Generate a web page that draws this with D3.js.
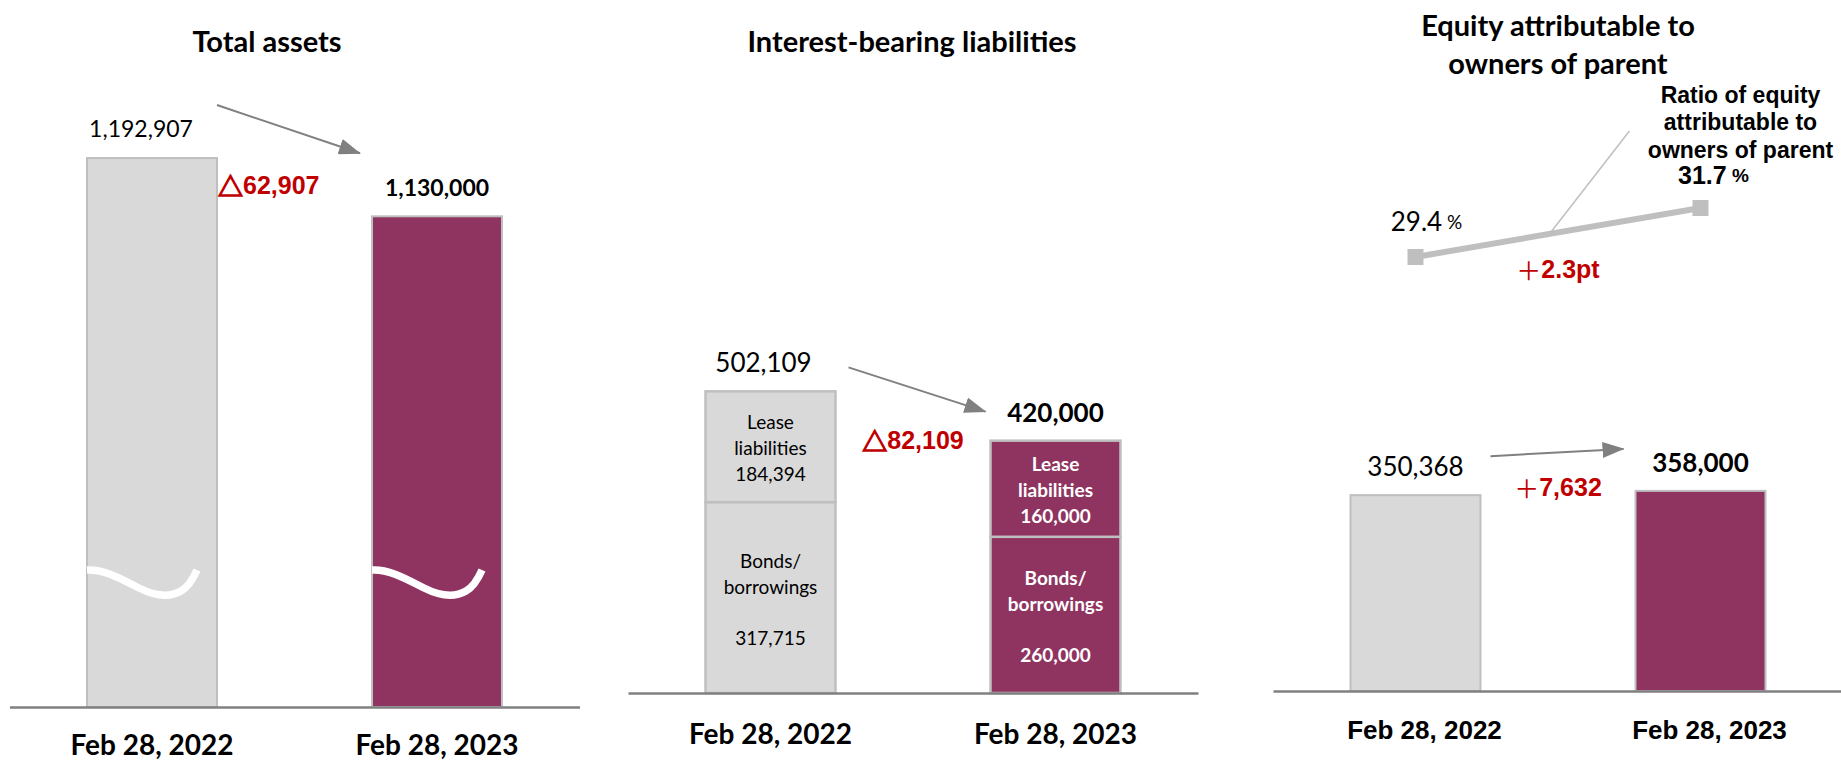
<!DOCTYPE html>
<html>
<head>
<meta charset="utf-8">
<script src="https://cdn.jsdelivr.net/npm/d3@7"></script>
<style>
  html, body { margin: 0; padding: 0; background: #fff; }
  svg { display: block; }
</style>
</head>
<body>
<svg id="chart" width="1841" height="761"></svg>
<script>
// ---- data (millions of yen) ----
const periods = ["Feb 28, 2022", "Feb 28, 2023"];
const totalAssets = [1192907, 1130000];
const leaseLiabilities = [184394, 160000];
const bondsBorrowings = [317715, 260000];
const interestBearing = [502109, 420000];
const equityParent = [350368, 358000];
const equityRatio = [29.4, 31.7];
const valueLabels1 = ["1,192,907", "1,130,000"];
const valueLabels2 = ["502,109", "420,000"];
const valueLabels3 = ["350,368", "358,000"];
const leaseLabels = ["184,394", "160,000"];
const bondLabels = ["317,715", "260,000"];
const changeSigns = ["△", "△", "＋", "＋"];
const changeLabels = ["62,907", "82,109", "7,632", "2.3pt"];
const ratioLabels = ["29.4", "31.7"];
const panelTitles = ["Total assets", "Interest-bearing liabilities", ["Equity attributable to", "owners of parent"]];
const ratioTitle = ["Ratio of equity", "attributable to", "owners of parent"];

// ---- styling ----
const barFill = ["#d9d9d9", "#8f3460"];
const barStroke = "#bfbfbf";
const axisColor = "#808080";
const red = "#c00000";
const SANS = "Lato, 'Open Sans', 'Noto Sans CJK JP', sans-serif";
const ARIAL = "'Liberation Sans', Arial, 'DejaVu Sans', 'Noto Sans CJK JP', sans-serif";
const CJK = "'Noto Sans CJK JP', 'DejaVu Sans', sans-serif";

const svg = d3.select("#chart");

svg.append("defs").append("marker")
  .attr("id", "head")
  .attr("viewBox", "0 0 22 16")
  .attr("refX", 21).attr("refY", 8)
  .attr("markerWidth", 22).attr("markerHeight", 16)
  .attr("markerUnits", "userSpaceOnUse")
  .attr("orient", "auto")
  .append("path").attr("d", "M0,0 L22,8 L0,16 Z").attr("fill", axisColor);

function label(g, x, y, s, o = {}) {
  return g.append("text")
    .attr("x", x).attr("y", y)
    .attr("text-anchor", o.anchor || "middle")
    .attr("dominant-baseline", "central")
    .style("font-family", o.family || SANS)
    .style("font-size", (o.size || 24) + "px")
    .style("font-weight", o.weight || "normal")
    .attr("fill", o.fill || "#000")
    .text(s);
}

// red change figure: sign glyph in a CJK face, digits in the bold sans
function change(g, x, y, i, anchor, heavy) {
  const t = label(g, x, y, "", { size: 25, weight: "bold", fill: red, family: ARIAL, anchor: anchor || "middle" });
  const sign = t.append("tspan").style("font-family", CJK).style("font-weight", heavy ? "bold" : "normal").text(changeSigns[i]);
  if (heavy) sign.attr("stroke", red).attr("stroke-width", 1.3);
  t.append("tspan").text(changeLabels[i]);
  return t;
}

function arrow(g, x0, y0, x1, y1) {
  g.append("line")
    .attr("x1", x0).attr("y1", y0).attr("x2", x1).attr("y2", y1)
    .attr("stroke", axisColor).attr("stroke-width", 2)
    .attr("marker-end", "url(#head)");
}

function band(r0, r1) {
  return d3.scaleBand().domain(periods).range([r0, r1])
    .paddingInner(0.544).paddingOuter(0.272);
}

function bottomAxis(g, x, y0, pad, family, size, shift) {
  g.append("g")
    .attr("transform", `translate(0,${y0})`)
    .call(d3.axisBottom(x).tickSize(0).tickPadding(pad))
    .call(a => a.select(".domain").attr("stroke", axisColor).attr("stroke-width", 2.5))
    .call(a => a.selectAll("text")
      .attr("dx", shift || 0)
      .style("font-family", family).style("font-size", size + "px")
      .style("font-weight", "bold").attr("fill", "#000"));
}

// ================= Total assets =================
{
  const g = svg.append("g");
  const x = band(9.5, 579.5);
  const bw = x.bandwidth();
  const base = 600000;           // axis is broken below this value
  const y = d3.scaleLinear().domain([base, 1200000]).range([707, 151.5]);
  const breakAt = 735000;

  g.selectAll("rect").data(totalAssets).join("rect")
    .attr("x", (d, i) => x(periods[i]))
    .attr("y", d => y(d))
    .attr("width", bw)
    .attr("height", d => y(base) - y(d))
    .attr("fill", (d, i) => barFill[i])
    .attr("stroke", barStroke).attr("stroke-width", 2);

  // wavy break marks
  g.selectAll("path.break").data(periods).join("path")
    .attr("class", "break")
    .attr("transform", p => `translate(${x(p)},${y(breakAt)})`)
    .attr("d", "M0,-12 C18,-13 36,-2 52,6 C66,13 82,16 94,9 C101,5 106,-3 110,-12")
    .attr("fill", "none").attr("stroke", "#fff").attr("stroke-width", 7.5);

  bottomAxis(g, x, 707, 28, SANS, 28, 0);

  label(g, 267, 40, panelTitles[0], { size: 29, weight: "bold" });
  label(g, x(periods[0]) + bw / 2 - 11, y(totalAssets[0]) - 30, valueLabels1[0], { size: 23 });
  label(g, x(periods[1]) + bw / 2, y(totalAssets[1]) - 29, valueLabels1[1], { size: 23, weight: "bold" });
  change(g, x(periods[0]) + bw + 1, y(totalAssets[0]) + 27, 0, "start", true);
  arrow(g, x(periods[0]) + bw, y(totalAssets[0]) - 53, x(periods[1]) - 12, y(totalAssets[1]) - 63);
}

// ================= Interest-bearing liabilities =================
{
  const g = svg.append("g");
  const x = band(628, 1198);
  const bw = x.bandwidth();
  const y = d3.scaleLinear().domain([0, 500000]).range([693, 392.6]);

  const table = periods.map((p, i) => ({ period: p, bonds: bondsBorrowings[i], lease: leaseLiabilities[i] }));
  const stacked = d3.stack().keys(["bonds", "lease"])(table);

  stacked.forEach(layer => {
    g.append("g").selectAll("rect").data(layer).join("rect")
      .attr("x", d => x(d.data.period))
      .attr("y", d => y(d[1]))
      .attr("width", bw)
      .attr("height", d => y(d[0]) - y(d[1]))
      .attr("fill", (d, i) => barFill[i])
      .attr("stroke", barStroke).attr("stroke-width", 2.5);
  });

  // segment captions
  periods.forEach((p, i) => {
    const cx = x(p) + bw / 2;
    const style = i === 0 ? { size: 19 } : { size: 19, weight: "bold", fill: "#fff" };
    const leaseMid = (y(interestBearing[i]) + y(bondsBorrowings[i])) / 2;
    const bondMid = (y(bondsBorrowings[i]) + y(0)) / 2;
    label(g, cx, leaseMid - 25.5, "Lease", style);
    label(g, cx, leaseMid + 1, "liabilities", style);
    label(g, cx, leaseMid + 27, leaseLabels[i], style);
    label(g, cx, bondMid - 37.5, "Bonds/", style);
    label(g, cx, bondMid - 11.5, "borrowings", style);
    label(g, cx, bondMid + 40, bondLabels[i], style);
  });

  bottomAxis(g, x, 693, 31, SANS, 28, 0);

  label(g, 912, 40, panelTitles[1], { size: 29, weight: "bold" });
  label(g, x(periods[0]) + bw / 2 - 7, y(interestBearing[0]) - 29, valueLabels2[0], { size: 26 });
  label(g, x(periods[1]) + bw / 2, y(interestBearing[1]) - 29, valueLabels2[1], { size: 26, weight: "bold" });
  change(g, (x(periods[0]) + bw + x(periods[1])) / 2, y(interestBearing[0]) + 49, 1, "middle", true);
  arrow(g, x(periods[0]) + bw + 13, y(interestBearing[0]) - 24, x(periods[1]) - 5, y(interestBearing[1]) - 29);
}

// ================= Equity attributable to owners of parent =================
{
  const g = svg.append("g");
  const x = band(1273, 1843);
  const bw = x.bandwidth();
  const y = d3.scaleLinear().domain([0, 400000]).range([691, 467.4]);
  const r = d3.scaleLinear().domain([29, 32]).range([265.5, 201.6]);

  g.selectAll("rect").data(equityParent).join("rect")
    .attr("x", (d, i) => x(periods[i]))
    .attr("y", d => y(d))
    .attr("width", bw)
    .attr("height", d => y(0) - y(d))
    .attr("fill", (d, i) => barFill[i])
    .attr("stroke", barStroke).attr("stroke-width", 2);

  bottomAxis(g, x, 691, 30, ARIAL, 26, 9);

  label(g, 1558, 24, panelTitles[2][0], { size: 29, weight: "bold" });
  label(g, 1558, 62, panelTitles[2][1], { size: 29, weight: "bold" });

  label(g, x(periods[0]) + bw / 2, y(equityParent[0]) - 29, valueLabels3[0], { size: 26 });
  label(g, x(periods[1]) + bw / 2, y(equityParent[1]) - 29, valueLabels3[1], { size: 26, weight: "bold" });
  change(g, (x(periods[0]) + bw + x(periods[1])) / 2, y(equityParent[0]) - 8, 2, "middle", false);
  arrow(g, x(periods[0]) + bw + 10, y(equityParent[0]) - 39, x(periods[1]) - 12, y(equityParent[1]) - 42);

  // equity ratio line
  const pts = equityRatio.map((v, i) => [x(periods[i]) + bw / 2, r(v)]);
  const mid = [pts[0][0] + (pts[1][0] - pts[0][0]) * 0.47, pts[0][1] + (pts[1][1] - pts[0][1]) * 0.47];
  g.append("line")
    .attr("x1", mid[0] + 80).attr("y1", mid[1] - 103)
    .attr("x2", mid[0]).attr("y2", mid[1])
    .attr("stroke", barStroke).attr("stroke-width", 1.5);
  g.append("path")
    .attr("d", d3.line()(pts))
    .attr("fill", "none").attr("stroke", barStroke).attr("stroke-width", 6);
  g.selectAll("rect.marker").data(pts).join("rect")
    .attr("class", "marker")
    .attr("x", d => d[0] - 8).attr("y", d => d[1] - 8)
    .attr("width", 16).attr("height", 16)
    .attr("fill", barStroke);

  const t0 = label(g, pts[0][0] + 11, pts[0][1] - 36, "", { size: 26 });
  t0.append("tspan").text(ratioLabels[0]);
  t0.append("tspan").style("font-size", "19px").text(" %");
  const t1 = label(g, pts[1][0] + 13, pts[1][1] - 33, "", { size: 25, weight: "bold", family: ARIAL });
  t1.append("tspan").text(ratioLabels[1]);
  t1.append("tspan").style("font-size", "19px").text(" %");

  change(g, (pts[0][0] + pts[1][0]) / 2, (pts[0][1] + pts[1][1]) / 2 + 37, 3, "middle", false);

  ratioTitle.forEach((s, i) => {
    label(g, pts[1][0] + 40, pts[1][1] - 113 + i * 27.5, s, { size: 23, weight: "bold", family: ARIAL });
  });
}
</script>
</body>
</html>
